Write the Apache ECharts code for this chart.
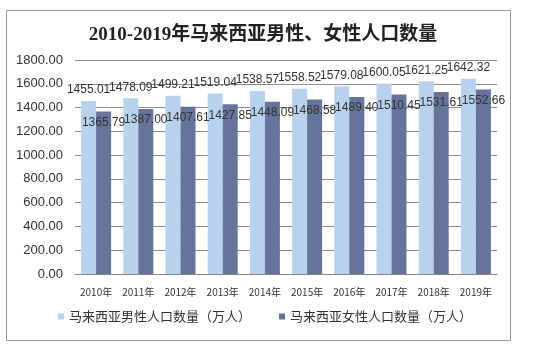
<!DOCTYPE html>
<html><head><meta charset="utf-8">
<script src="https://cdn.jsdelivr.net/npm/echarts@6/dist/echarts.min.js"></script>
<style>html,body{margin:0;padding:0;background:#fff}#c{width:547px;height:349px}</style>
</head><body><div id="c"></div>
<script>
const categories = ['2010年','2011年','2012年','2013年','2014年','2015年','2016年','2017年','2018年','2019年'];
const maleValues = [1455.01,1478.09,1499.21,1519.04,1538.57,1558.52,1579.08,1600.05,1621.25,1642.32];
const femaleValues = [1365.79,1387.00,1407.61,1427.85,1448.09,1468.58,1489.40,1510.45,1531.61,1552.66];
const seriesNames = ['马来西亚男性人口数量（万人）','马来西亚女性人口数量（万人）'];
const titleText = '2010-2019年马来西亚男性、女性人口数量';

const chart = echarts.init(document.getElementById('c'), null, {renderer:'canvas'});
const labelStyle = {show:true, fontSize:12, color:'#333', fontFamily:'Arial, "Liberation Sans", sans-serif',
  formatter: p => p.value.toFixed(2)};
chart.setOption({
  animation:false,
  backgroundColor:'#fff',
  graphic:[{type:'rect', shape:{x:6.5,y:10.5,width:504,height:330}, style:{fill:'none', stroke:'#999', lineWidth:1}}],
  title:{text:titleText, left:258, textAlign:'center', top:21,
    textStyle:{fontSize:19, fontWeight:'bold', color:'#222', fontFamily:'"Liberation Serif", "Noto Sans CJK SC", serif'}},
  grid:{left:75, right:50, top:60, bottom:75},
  legend:{left:53, top:305, itemWidth:6, itemHeight:6, itemGap:28, icon:'rect',
    textStyle:{fontSize:13, color:'#333', fontFamily:'"Noto Sans CJK SC", sans-serif'}},
  xAxis:{type:'category', data:categories,
    axisLine:{lineStyle:{color:'#888'}}, axisTick:{show:false},
    axisLabel:{fontSize:10, color:'#333', margin:13, fontFamily:'"Noto Sans CJK SC", sans-serif'}},
  yAxis:{type:'value', min:0, max:1800, interval:200,
    axisLine:{show:false}, axisTick:{show:false},
    splitLine:{lineStyle:{color:'#8c8c8c'}},
    axisLabel:{fontSize:13, color:'#333', margin:12, fontFamily:'Arial, "Liberation Sans", sans-serif',
      formatter: v => v.toFixed(2)}},
  series:[
    {name:seriesNames[0], type:'bar', data:maleValues, barWidth:15, barGap:'0%',
     itemStyle:{color:'#b8d2ee'}, label:Object.assign({position:'top', distance:5}, labelStyle)},
    {name:seriesNames[1], type:'bar', data:femaleValues, barWidth:15,
     itemStyle:{color:'#66739b'}, label:Object.assign({position:'insideTop', distance:5}, labelStyle)}
  ]
});
</script></body></html>
